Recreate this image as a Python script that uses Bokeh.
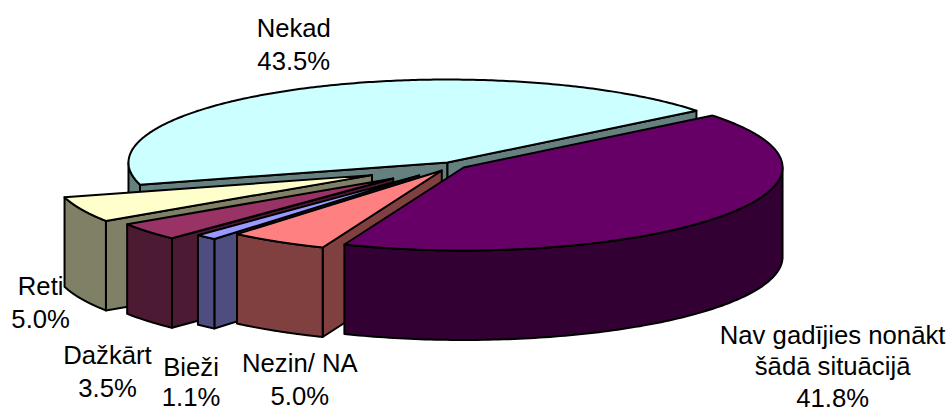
import numpy as np
from bokeh.plotting import figure
from bokeh.models import Range1d, ColumnDataSource
from bokeh.core.properties import value
from bokeh.embed import file_html
from bokeh.resources import INLINE

# data, in clockwise drawing order
categories = ["Nav gadījies nonākt\nšādā situācijā", "Nezin/ NA", "Bieži", "Dažkārt", "Reti", "Nekad"]
shares = [41.8, 5.0, 1.1, 3.5, 5.0, 43.5]
explode = [0.04, 0.07, 0.16, 0.245, 0.28, 0.04]

# styles
top_colors = ["#660066", "#FF8080", "#9999FF", "#993366", "#FFFFCC", "#CCFFFF"]
side_colors = ["#330033", "#804040", "#4D4D80", "#4D1A33", "#808066", "#668080"]
first_angle = 51.3
label_offsets = [(113, 118), (22, 121.5), (-15, 129.6), (-40.6, 123.5), (-41, 76.7), (-8.5, -60.5)]
line_gaps = [31.5, 33.0, 30.0, 33.0, 33.0, 33.0]
draw_order = [5, 4, 3, 2, 1, 0]

# layout
W, H = 951, 412
R_PX = 319.0
CX_PX, CY_PX = 452.8, 165.0
tilt = 83.0 / R_PX
depth = 89.5 / R_PX
EDGE = 2.0

p = figure(width=W, height=H, toolbar_location=None, output_backend="svg",
           x_axis_type=None, y_axis_type=None,
           x_range=Range1d(-CX_PX / R_PX, (W - CX_PX) / R_PX),
           y_range=Range1d((CY_PX - H) / R_PX, CY_PX / R_PX),
           min_border=0, outline_line_color=None, background_fill_color="white")
p.grid.visible = False

total = sum(shares)
spans = [360.0 * s / total for s in shares]
starts = first_angle + np.concatenate([[0.0], np.cumsum(spans)[:-1]])


def rim(th_deg):
    t = np.radians(th_deg)
    return np.sin(t), tilt * np.cos(t)


def draw(xs, ys, color):
    p.patch(list(xs), list(ys), fill_color=color, line_color="black", line_width=EDGE, line_join="round")


apexes = []
for s0, span, k in zip(starts, spans, explode):
    mx, my = rim(s0 + span / 2)
    apexes.append((k * mx, k * my))

for i in draw_order:
    s0, s1 = starts[i], starts[i] + spans[i]
    ax, ay = apexes[i]
    # radial walls that face the viewer
    for th, vis in ((s0, np.sin(np.radians(s0)) < 0), (s1, np.sin(np.radians(s1)) > 0)):
        if vis:
            rx, ry = rim(th)
            draw([ax, ax + rx, ax + rx, ax], [ay, ay + ry, ay + ry - depth, ay - depth], side_colors[i])
    # outer wall on the front half of the rim
    lo, hi = max(s0, 90.0), min(s1, 270.0)
    if hi > lo:
        th = np.linspace(lo, hi, 120)
        rx, ry = rim(th)
        draw(np.r_[ax + rx, (ax + rx)[::-1]], np.r_[ay + ry, (ay + ry - depth)[::-1]], side_colors[i])
    # top face
    th = np.linspace(s0, s1, 240)
    rx, ry = rim(th)
    draw(np.r_[ax, ax + rx], np.r_[ay, ay + ry], top_colors[i])

tx, ty, tt, xo, yo = [], [], [], [], []
for i, (cat, share) in enumerate(zip(categories, shares)):
    mx, my = rim(starts[i] + spans[i] / 2)
    lines = cat.split("\n") + [f"{share:.1f}%"]
    for j, line in enumerate(lines):
        tx.append(apexes[i][0] + mx)
        ty.append(apexes[i][1] + my)
        tt.append(line)
        xo.append(label_offsets[i][0])
        yo.append(label_offsets[i][1] + j * line_gaps[i])

src = ColumnDataSource(dict(x=tx, y=ty, t=tt, xo=xo, yo=yo))
p.text(x="x", y="y", text="t", x_offset="xo", y_offset="yo", source=src,
       text_font=value("Liberation Sans"), text_font_size="25.7px",
       text_color="black", text_align="center", text_baseline="middle")

open("out.html", "w").write(file_html(p, INLINE))
